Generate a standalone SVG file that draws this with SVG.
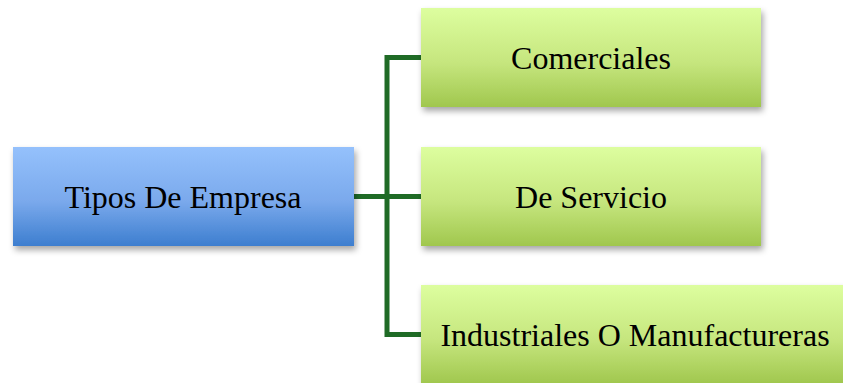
<svg xmlns="http://www.w3.org/2000/svg" width="843" height="383" viewBox="0 0 843 383">
<defs>
<linearGradient id="gBlue" x1="0" y1="0" x2="0" y2="1">
<stop offset="0" stop-color="#95c1fc"/>
<stop offset="0.55" stop-color="#7aa9ec"/>
<stop offset="1" stop-color="#3d7ecf"/>
</linearGradient>
<linearGradient id="gGreen" x1="0" y1="0" x2="0" y2="1">
<stop offset="0" stop-color="#ddfe9f"/>
<stop offset="0.55" stop-color="#c6e67e"/>
<stop offset="1" stop-color="#a0c74e"/>
</linearGradient>
<filter id="sh" x="-10%" y="-10%" width="125%" height="135%">
<feDropShadow dx="2" dy="4" stdDeviation="3" flood-color="#000" flood-opacity="0.35"/>
</filter>
</defs>
<style>
.lbl{font-family:"Liberation Serif","Times New Roman",serif;font-size:32px;fill:#000;text-anchor:middle}
.conn{fill:none;stroke:#1f6b26;stroke-width:5;stroke-linejoin:miter;stroke-linecap:butt}
</style>
<rect width="843" height="383" fill="#fff"/>
<g id="connectors">
<path class="conn" d="M354,196.5 H421"/>
<path class="conn" d="M421,57.5 H387 V334.5 H421"/>
</g>
<g id="node-tipos">
<rect x="13" y="147" width="341" height="99" fill="url(#gBlue)" filter="url(#sh)"/>
<text class="lbl" x="183" y="207.5">Tipos De Empresa</text>
</g>
<g id="node-comerciales">
<rect x="421" y="8" width="340" height="99" fill="url(#gGreen)" filter="url(#sh)"/>
<text class="lbl" x="591" y="68.5">Comerciales</text>
</g>
<g id="node-servicio">
<rect x="421" y="147" width="340" height="99" fill="url(#gGreen)" filter="url(#sh)"/>
<text class="lbl" x="591" y="207.5">De Servicio</text>
</g>
<g id="node-industriales">
<rect x="421" y="285" width="428" height="99" fill="url(#gGreen)" filter="url(#sh)"/>
<text class="lbl" x="635" y="345.5">Industriales O Manufactureras</text>
</g>
</svg>
